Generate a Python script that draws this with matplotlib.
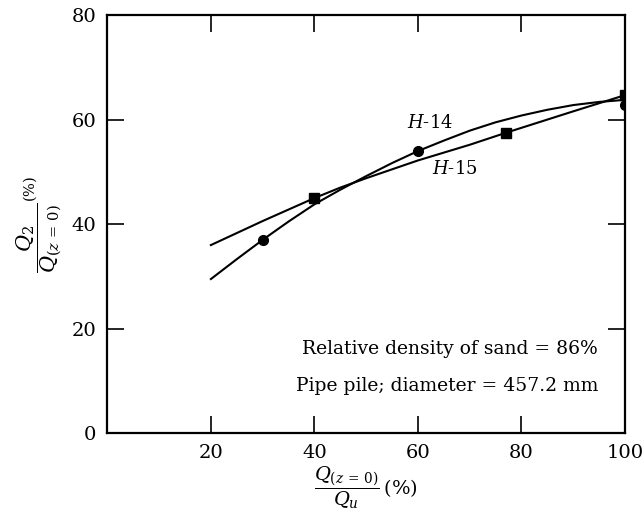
import numpy as np
from matplotlib import pyplot as plt

plt.rcParams['font.family'] = 'DejaVu Serif'
plt.rcParams['mathtext.fontset'] = 'dejavuserif'

# Test points
h14_x = [30, 60, 100]
h14_y = [37, 54, 62.8]
h15_x = [40, 77, 100]
h15_y = [45, 57.5, 64.7]

# Drawn curves
h14_curve_x = [20, 25, 30, 35, 40, 45, 50, 55, 60, 65, 70, 75, 80, 85, 90, 95, 100]
h14_curve_y = [29.5, 33.3, 37, 40.5, 43.8, 46.6, 49.2, 51.7, 54, 56, 57.9,
               59.5, 60.8, 61.9, 62.8, 63.4, 63.8]
h15_curve_x = [20, 30, 40, 45, 50, 60, 70, 77, 90, 100]
h15_curve_y = [36, 40.6, 45, 47, 48.8, 52.2, 55.2, 57.5, 61.6, 64.7]

x_ticks = [20, 40, 60, 80, 100]
y_ticks = [0, 20, 40, 60, 80]

fig = plt.figure(figsize=(6.43, 5.25), dpi=100)
ax = fig.add_axes([0.167, 0.175, 0.805, 0.796])

# Curves
ax.plot(h14_curve_x, h14_curve_y, color='black', lw=1.5)
ax.plot(h15_curve_x, h15_curve_y, color='black', lw=1.5)

# Points
ax.plot(h14_x, h14_y, 'o', color='black', ms=7)
ax.plot(h15_x, h15_y, 's', color='black', ms=7)

# Curve labels
ax.text(62.3, 59.4, r'$H$-14', fontsize=13, ha='center', va='center')
ax.text(67.1, 50.6, r'$H$-15', fontsize=13, ha='center', va='center')

# Notes
ax.text(94.8, 16.1, 'Relative density of sand = 86%', fontsize=13.5,
        ha='right', va='center')
ax.text(94.8, 9.0, 'Pipe pile; diameter = 457.2 mm', fontsize=13.5,
        ha='right', va='center')

ax.set_xlim(0, 100)
ax.set_ylim(0, 80)
ax.set_xticks(x_ticks)
ax.set_yticks(y_ticks)
ax.tick_params(direction='in', length=12, width=1.2, top=True, right=True,
               labelsize=14, pad=8)

for s in ax.spines.values():
    s.set_linewidth(1.6)

ax.set_xlabel(r'$\dfrac{Q_{(z\,=\,0)}}{Q_u}\,\mathregular{(\%)}$', fontsize=14, labelpad=2)
ax.set_ylabel(r'$\dfrac{Q_2}{Q_{(z\,=\,0)}}{}^{\mathregular{(\%)}}$', fontsize=15, labelpad=6)

plt.savefig('out.png', dpi=100)
